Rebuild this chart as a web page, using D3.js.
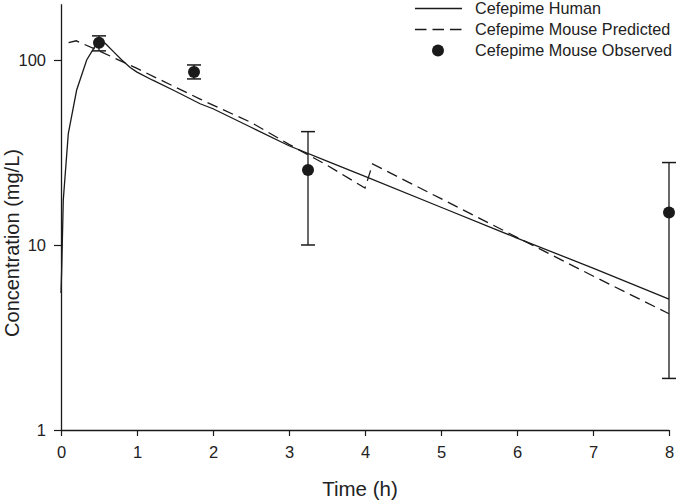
<!DOCTYPE html>
<html>
<head>
<meta charset="utf-8">
<script src="https://cdn.jsdelivr.net/npm/d3@7"></script>
<style>
  html, body { margin: 0; padding: 0; background: #fff; }
  svg text { font-family: "Liberation Sans", Arial, sans-serif; fill: #222; }
</style>
</head>
<body>
<svg id="chart" width="680" height="502"></svg>
<script>
// ---- Data ----
const humanTime = [0, 0.01, 0.03, 0.096, 0.206, 0.338, 0.51, 0.6, 0.7, 0.8, 0.91, 1.0, 1.2, 1.5, 1.83, 2, 2.5, 3, 3.5, 4, 5, 6, 7, 8];
const humanConc = [5.5, 7.6, 17.5, 40, 68.8, 100, 131, 121, 110, 100, 91, 86, 78, 68, 58, 54.5, 43.3, 34.4, 28.4, 23.5, 16, 10.9, 7.5, 5.1];

const mouseTime = [0.1, 0.2, 0.5, 1, 1.5, 1.83, 2, 2.5, 3, 3.5, 4.0, 4.1, 5, 6, 7, 8];
const mouseConc = [124, 127, 112, 90, 71.5, 61.5, 57, 46, 35, 27, 20.3, 27.4, 17.8, 11.0, 6.8, 4.25];

const obsTime = [0.5, 1.75, 3.25, 8];
const obsConc = [124, 86, 25.4, 15.0];
const obsLow  = [112, 79, 10, 1.9];
const obsHigh = [135, 94, 41, 27.9];

const xTicks = [0, 1, 2, 3, 4, 5, 6, 7, 8];
const yTicks = [1, 10, 100];
const legendLabels = ["Cefepime Human", "Cefepime Mouse Predicted", "Cefepime Mouse Observed"];
const xTitle = "Time (h)";
const yTitle = "Concentration (mg/L)";

// ---- Drawing ----
const svg = d3.select("#chart");
const ink = "#1a1a1a";

const x = d3.scaleLinear().domain([0, 8]).range([61, 669]);
const y = d3.scaleLog().domain([1, 200]).range([430, 4.3]);

// axes
const xAxis = d3.axisBottom(x).tickValues(xTicks).tickSize(6).tickPadding(10).tickFormat(d3.format("d"));
const yAxis = d3.axisLeft(y).tickValues(yTicks).tickSize(7).tickPadding(8).tickFormat(d3.format("d"));

const gx = svg.append("g").attr("transform", `translate(0,${y(1)})`).call(xAxis);
const gy = svg.append("g").attr("transform", `translate(${x(0)},0)`).call(yAxis);
[gx, gy].forEach(g => {
  g.select(".domain").attr("stroke", ink).attr("stroke-width", 1.3);
  g.selectAll(".tick line").attr("stroke", ink).attr("stroke-width", 1.2);
  g.selectAll(".tick text").attr("font-size", 16.5).attr("fill", "#222")
   .style("font-family", '"Liberation Sans", Arial, sans-serif');
});
gx.select(".domain").attr("d", `M${x(0)},0.5H${x(8)}`);
gy.select(".domain").attr("d", `M0.5,${y(200)}V${y(1)}`);

// titles
svg.append("text").attr("x", (x(0) + x(8)) / 2 - 5).attr("y", 496)
  .attr("text-anchor", "middle").attr("font-size", 20.5).text(xTitle);
svg.append("text").attr("transform", `translate(19,${243}) rotate(-90)`)
  .attr("text-anchor", "middle").attr("font-size", 20).text(yTitle);

// lines
const line = d3.line().x(d => x(d[0])).y(d => y(d[1]));
const humanData = humanTime.map((t, i) => [t, humanConc[i]]);
const mouseData = mouseTime.map((t, i) => [t, mouseConc[i]]);

svg.append("path").datum(humanData).attr("d", line)
  .attr("fill", "none").attr("stroke", ink).attr("stroke-width", 1.3);
svg.append("path").datum(mouseData).attr("d", line)
  .attr("fill", "none").attr("stroke", ink).attr("stroke-width", 1.3)
  .attr("stroke-dasharray", "11,6");

// observed points with error bars
const capW = 7;
const obs = svg.append("g");
obsTime.forEach((t, i) => {
  const cx = x(t);
  obs.append("line").attr("x1", cx).attr("x2", cx).attr("y1", y(obsLow[i])).attr("y2", y(obsHigh[i]))
    .attr("stroke", ink).attr("stroke-width", 1.3);
  obs.append("line").attr("x1", cx - capW).attr("x2", cx + capW).attr("y1", y(obsLow[i])).attr("y2", y(obsLow[i]))
    .attr("stroke", ink).attr("stroke-width", 1.5);
  obs.append("line").attr("x1", cx - capW).attr("x2", cx + capW).attr("y1", y(obsHigh[i])).attr("y2", y(obsHigh[i]))
    .attr("stroke", ink).attr("stroke-width", 1.5);
  obs.append("circle").attr("cx", cx).attr("cy", y(obsConc[i])).attr("r", 6).attr("fill", ink);
});

// legend
const lg = svg.append("g");
const rowY = [8.5, 29.5, 50.5];
legendLabels.forEach((lab, i) => {
  if (i < 2) {
    lg.append("line").attr("x1", 415).attr("x2", 462).attr("y1", rowY[i]).attr("y2", rowY[i])
      .attr("stroke", ink).attr("stroke-width", 1.3)
      .attr("stroke-dasharray", i === 1 ? "11.5,6" : null);
  } else {
    lg.append("circle").attr("cx", 438).attr("cy", rowY[i]).attr("r", 6).attr("fill", ink);
  }
  lg.append("text").attr("x", 475).attr("y", rowY[i]).attr("dy", "0.36em")
    .attr("font-size", 16.2).text(lab);
});
</script>
</body>
</html>
